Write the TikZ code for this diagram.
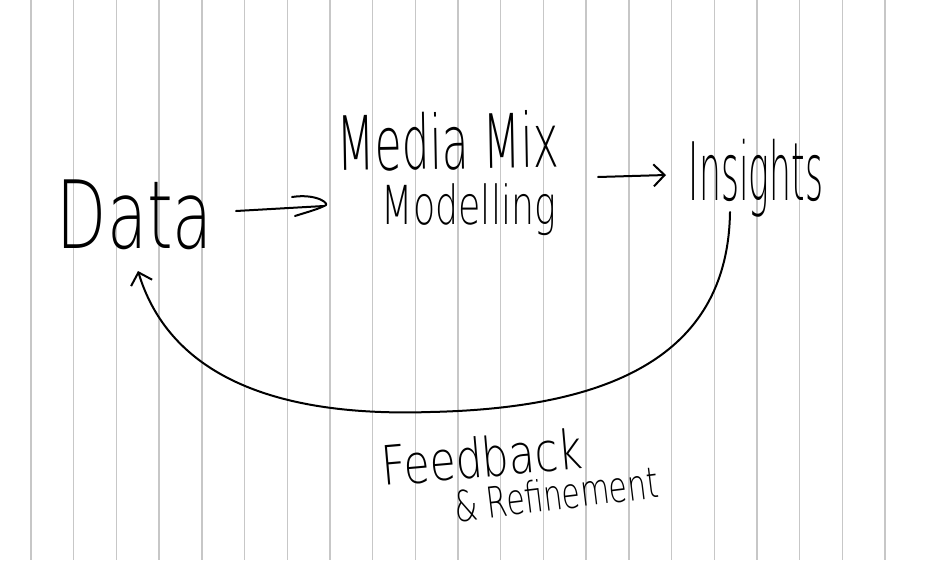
\documentclass[tikz,border=0pt]{standalone}
\usepackage{fontspec}
\usepackage{graphicx}
\usetikzlibrary{arrows.meta}
\newfontfamily\hand{DejaVu Sans ExtraLight}
\tikzset{
  rule/.style={draw=black!22, line width=1.4pt},
  ink/.style={draw=black, line width=2pt, line cap=round, line join=round},
  word/.style={inner sep=0pt, outer sep=0pt, text=black},
  barb/.style={-{Straight Barb[length=11pt, width=22pt, line width=2pt]}}
}
\begin{document}
\begin{tikzpicture}[x=1pt, y=-1pt]
  \useasboundingbox (0,0) rectangle (936,560);
  \fill[white] (0,0) rectangle (936,560);
  % ruled paper
  \foreach \k in {0,...,20} {
    \draw[rule] ({31+42.7*\k},0) -- ({31+42.7*\k},560);
  }
  % texts
  \node[word] (data) at (135,215) {\resizebox*{156pt}{70pt}{\hand Data}};
  \node[word, rotate=1] (media) at (448,141) {\resizebox*{222pt}{58pt}{\hand Media Mix}};
  \node[word] (model) at (469,210) {\resizebox*{174pt}{52pt}{\hand Modelling}};
  \node[word] (ins) at (756,178) {\resizebox*{134pt}{78pt}{\hand Insights}};
  \node[word, rotate=5] (fb) at (482,457) {\resizebox*{202pt}{42pt}{\hand Feedback}};
  \node[word, rotate=7] (ref) at (556,494) {\resizebox*{205pt}{33pt}{\hand \& Refinement}};
  % connector end points
  \coordinate (a1s) at (236,211);
  \coordinate (a1e) at (324,206);
  \coordinate (a2s) at (598,177);
  \coordinate (a2e) at (666,175);
  \coordinate (fbs) at (730,212);
  \coordinate (fbm) at (430,412);
  \coordinate (fbe) at (138,271);
  % Data -> Media Mix Modelling
  \draw[ink] (a1s) -- (a1e);
  \draw[ink] (292,197) .. controls (318,193) and (332,205) .. (a1e) .. controls (316,210) and (304,213) .. (295,216);
  % Media Mix Modelling -> Insights
  \draw[ink, barb] (a2s) -- (a2e);
  % Insights -> Data (feedback loop)
  \draw[ink, barb] (fbs) .. controls (728,350) and (620,408) .. (fbm)
                         .. controls (250,418) and (165,360) .. (fbe);
\end{tikzpicture}
\end{document}
